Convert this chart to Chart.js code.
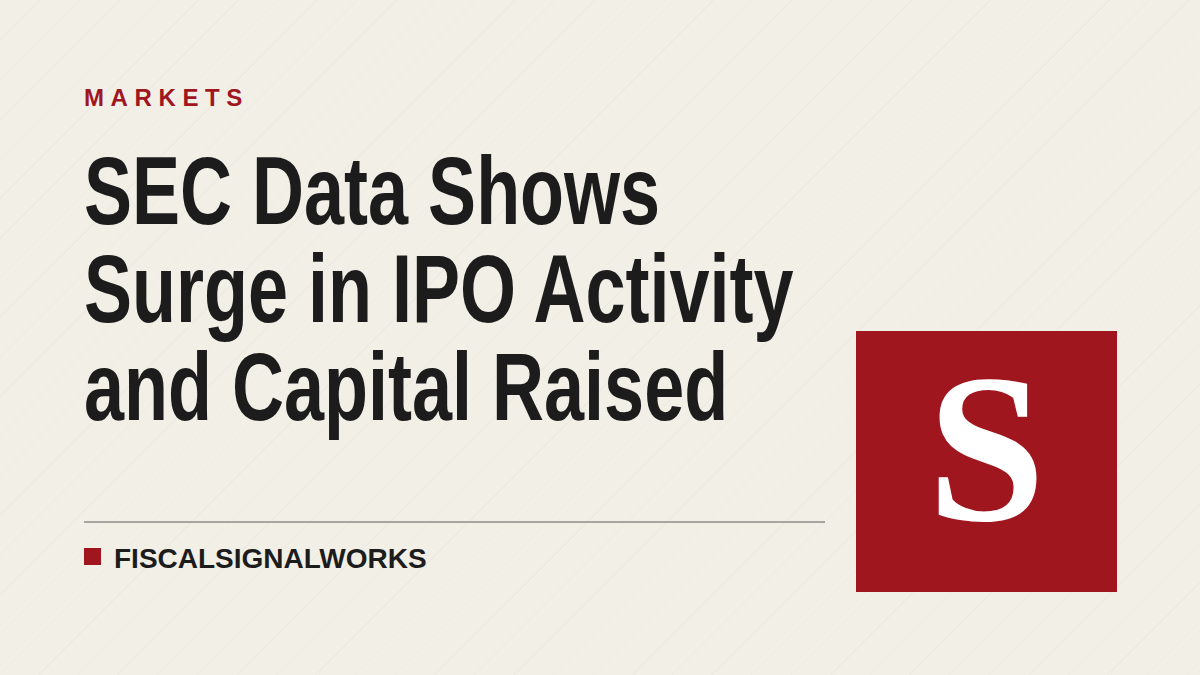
<!DOCTYPE html>
<html>
<head>
<meta charset="utf-8">
<script src="https://cdn.jsdelivr.net/npm/chart.js@4"></script>
<style>
  html, body { margin: 0; padding: 0; }
  body {
    width: 1200px; height: 675px; overflow: hidden; position: relative;
    background-color: #f2efe7;
    background-image: repeating-linear-gradient(135deg, rgba(0,0,0,0.018) 0 1px, transparent 1px 28px);
  }
  .kicker { position: absolute; left: 84px; top: 84px; font: bold 24px "Liberation Sans", Arial, sans-serif;
    letter-spacing: 6.6px; color: #a0161f; }
  h1 { position: absolute; left: 84px; top: 142px; margin: 0; white-space: nowrap;
    font: bold 96px/98px "Liberation Sans Narrow", "Liberation Sans", sans-serif; color: #1c1c1c;
    transform: scaleX(0.75); transform-origin: left top; }
  .rule { position: absolute; left: 84px; top: 521px; width: 741px; height: 2px; background: #a8a5a0; }
  .brand { position: absolute; left: 84px; top: 543px; font: bold 28px "Liberation Sans", Arial, sans-serif; color: #1c1c1c; }
  .brand span { display: inline-block; width: 17px; height: 17px; background: #a0161f; margin-right: 13px; vertical-align: 3px; }
  .logo { position: absolute; left: 856px; top: 331px; width: 261px; height: 261px; background: #a0161f; }
  .logo div { position: absolute; left: 0; right: 0; top: -4px; text-align: center;
    font: bold 212px "Liberation Serif", "Times New Roman", serif; color: #fff; }
  #chart { position: absolute; left: 0; top: 0; width: 1px; height: 1px; }
</style>
</head>
<body>
<div class="kicker">MARKETS</div>
<h1>SEC Data Shows<br>Surge in IPO Activity<br>and Capital Raised</h1>
<div class="rule"></div>
<div class="brand"><span></span>FISCALSIGNALWORKS</div>
<div class="logo"><div>S</div></div>
<canvas id="chart"></canvas>
<script>
  // no plotted series in this card
  const categories = [];
  const values = [];
  new Chart('chart', {
    type: 'bar',
    data: { labels: categories, datasets: [{ data: values }] },
    options: { responsive: false, animation: false, plugins: { legend: { display: false } },
      scales: { x: { display: false }, y: { display: false } } }
  });
</script>
</body>
</html>
